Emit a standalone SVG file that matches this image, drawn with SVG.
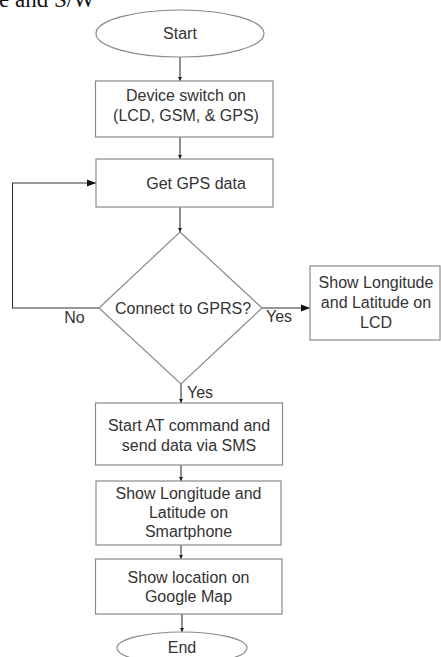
<svg xmlns="http://www.w3.org/2000/svg" width="441" height="657" viewBox="0 0 441 657">
  <style>
    .shape { fill: #ffffff; stroke: #8a8a8a; stroke-width: 1.2; }
    .conn { fill: none; stroke: #333333; stroke-width: 1.1; }
    .lbl { font-family: "Liberation Sans", Arial, sans-serif; font-size: 16px; fill: #333333; text-anchor: middle; }
    .cap { font-family: "Liberation Serif", "Times New Roman", serif; font-size: 23px; fill: #111111; }
  </style>
  <defs>
    <marker id="arr" viewBox="0 0 10 10" refX="10" refY="5" markerWidth="4.5" markerHeight="4.5" markerUnits="userSpaceOnUse" orient="auto">
      <path d="M0,0 L10,5 L0,10 z" fill="#222222"/>
    </marker>
    <marker id="arrBig" viewBox="0 0 10 10" refX="10" refY="5" markerWidth="9" markerHeight="9" markerUnits="userSpaceOnUse" orient="auto">
      <path d="M0,1 L10,5 L0,9 z" fill="#111111"/>
    </marker>
  </defs>

  <rect width="441" height="657" fill="#ffffff"/>

  <!-- heading line running off the top edge -->
  <text class="cap" x="-1" y="7">e and S/W</text>

  <!-- connectors -->
  <g id="connectors">
    <line class="conn" x1="180" y1="57" x2="180" y2="81" marker-end="url(#arr)"/>
    <line class="conn" x1="180" y1="137" x2="180" y2="159" marker-end="url(#arr)"/>
    <line class="conn" x1="180" y1="207" x2="180" y2="232" marker-end="url(#arr)"/>
    <polyline class="conn" points="99,308 12.5,308 12.5,183 96,183" marker-end="url(#arrBig)"/>
    <line class="conn" x1="262" y1="308" x2="310" y2="308" marker-end="url(#arrBig)"/>
    <line class="conn" x1="181" y1="384" x2="181" y2="403" marker-end="url(#arr)"/>
    <line class="conn" x1="181" y1="465" x2="181" y2="481" marker-end="url(#arr)"/>
    <line class="conn" x1="181" y1="545" x2="181" y2="559" marker-end="url(#arr)"/>
    <line class="conn" x1="182" y1="614" x2="182" y2="632" marker-end="url(#arr)"/>
    <text class="lbl" x="74.5" y="323">No</text>
    <text class="lbl" x="279" y="322">Yes</text>
    <text class="lbl" x="200" y="398">Yes</text>
  </g>

  <g id="start">
    <ellipse class="shape" cx="180" cy="33.5" rx="84" ry="23.5"/>
    <text class="lbl" x="180" y="39">Start</text>
  </g>

  <g id="switch-on">
    <rect class="shape" x="95.5" y="81" width="177.5" height="56"/>
    <text class="lbl" x="186" y="101">Device switch on</text>
    <text class="lbl" x="186" y="121">(LCD, GSM, &amp; GPS)</text>
  </g>

  <g id="get-gps">
    <rect class="shape" x="96" y="159" width="177" height="48"/>
    <text class="lbl" x="196" y="189">Get GPS data</text>
  </g>

  <g id="gprs-check">
    <polygon class="shape" points="180,232 262,308 181,384 99,308"/>
    <text class="lbl" x="183" y="314">Connect to GPRS?</text>
  </g>

  <g id="show-lcd">
    <rect class="shape" x="310" y="266" width="130" height="74"/>
    <text class="lbl" x="376" y="288">Show Longitude</text>
    <text class="lbl" x="376" y="308">and Latitude on</text>
    <text class="lbl" x="376" y="328">LCD</text>
  </g>

  <g id="send-sms">
    <rect class="shape" x="95.5" y="403" width="187" height="62"/>
    <text class="lbl" x="189" y="431">Start AT command and</text>
    <text class="lbl" x="189" y="451">send data via SMS</text>
  </g>

  <g id="show-phone">
    <rect class="shape" x="96" y="481" width="185" height="64"/>
    <text class="lbl" x="188.5" y="499">Show Longitude and</text>
    <text class="lbl" x="188.5" y="518">Latitude on</text>
    <text class="lbl" x="188.5" y="537">Smartphone</text>
  </g>

  <g id="show-map">
    <rect class="shape" x="95.5" y="559" width="186.5" height="55"/>
    <text class="lbl" x="188.5" y="583">Show location on</text>
    <text class="lbl" x="188.5" y="602">Google Map</text>
  </g>

  <g id="end">
    <ellipse class="shape" cx="182" cy="648" rx="65" ry="16"/>
    <text class="lbl" x="182" y="653">End</text>
  </g>
</svg>
